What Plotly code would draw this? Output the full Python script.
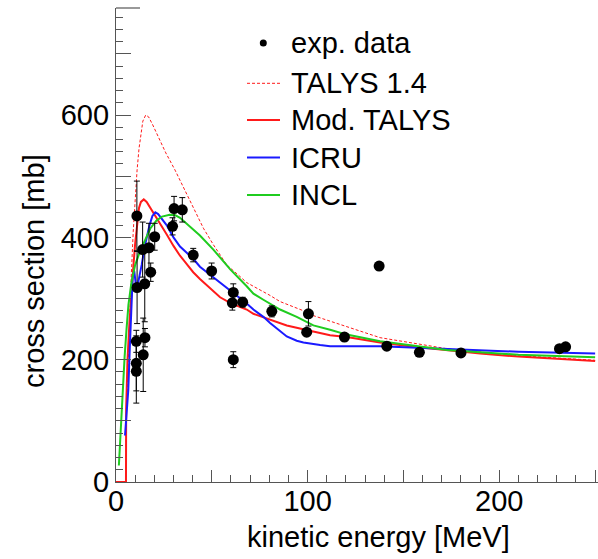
import plotly.graph_objects as go

# ---- measured cross sections ----
exp_energy = [10.9, 11.0, 10.6, 10.6, 10.6, 14.2, 15.1, 15.0, 13.9, 17.2, 18.1, 20.2,
              29.5, 30.3, 34.6, 40.3, 49.9, 61.2, 60.7, 66.1, 61.2, 81.3, 100.4, 99.5,
              119.2, 137.3, 141.3, 158.3, 180.0, 231.4, 234.6]
exp_xs = [435, 318, 230, 194, 181, 208, 236, 324, 380, 383, 343, 401,
          418, 447, 445, 371, 345, 310, 293, 294, 200, 279, 275, 245,
          237, 353, 222, 212, 211, 218, 221]
exp_err = [57, 59, 18, 45, 52, 60, 15, 62, 45, 40, 15, 22,
           14, 20, 20, 11, 13, 14, 12, 8, 13, 9, 20, 5,
           6, 6, 5, 5, 5, 5, 5]

# ---- model calculations ----
talys14_energy = [0, 5.2, 5.3, 6, 7, 8, 9, 10, 11, 12, 13, 14, 15.5, 17, 19, 22, 26, 30.8,
                  36, 40.3, 45.6, 50.8, 57.8, 64.7, 68.2, 80.4, 85.6, 97.8, 103, 111.7,
                  137.8, 172.6, 207.4, 250]
talys14_xs = [0, 0, 100, 170, 260, 340, 410, 465, 510, 545, 572, 590, 600, 597, 585, 565,
              538, 510, 477, 450, 415, 388, 355, 336, 326, 305, 295, 280, 272, 263,
              236, 218, 207, 199]

modtalys_energy = [0, 5.2, 5.3, 6, 7, 8, 9, 10, 11, 12, 13, 14.5, 16, 18, 20, 23, 26.4, 30,
                   33.4, 36, 40.3, 43.8, 50.8, 54.3, 60, 68.2, 71.7, 80, 89.1, 100, 111.7,
                   120.4, 137.8, 155.2, 172.6, 190, 210, 230, 250]
modtalys_xs = [0, 0, 120, 200, 260, 310, 350, 390, 425, 448, 458, 462, 458, 448, 438, 424,
               405, 386, 370, 360, 343, 332, 311, 302, 292, 282, 275, 266, 256, 248, 240,
               237, 228, 221, 215, 210, 205, 201, 198]

icru_energy = [4.7, 5.5, 6.4, 7.2, 8, 8.7, 9.5, 10.4, 11.3, 12.5, 13.4, 15, 16, 17.5, 19,
               20.5, 22, 24, 26.4, 28.2, 30, 33.4, 35.1, 40.3, 43.8, 50.8, 54.3, 63, 68.2,
               71.7, 76.9, 80.4, 85.6, 89.1, 94.3, 97.8, 106.5, 111.7, 137.8, 172.6, 210, 250]
icru_xs = [76, 110, 150, 220, 290, 335, 345, 322, 322, 340, 355, 385, 401, 420, 435,
           441, 438, 430, 420, 410, 400, 385, 380, 365, 352, 335, 325, 305, 292,
           282, 270, 260, 246, 238, 231, 228, 224, 222, 222, 218, 213, 210]

incl_energy = [1.5, 2.5, 3.5, 4.5, 5.5, 6.5, 8, 10, 12.5, 15, 18, 21, 24, 28, 31, 33.4,
               38.6, 43.8, 50.8, 59.5, 68.2, 71.7, 76.9, 85.6, 94.3, 103, 111.7, 120.4,
               137.8, 155.2, 172.6, 190, 210, 230, 250]
incl_xs = [27, 90, 155, 205, 250, 290, 325, 355, 377, 395, 415, 427, 434, 437, 436, 432,
           418, 403, 380, 348, 320, 308, 298, 282, 270, 256, 249, 241,
           230, 223, 216, 212, 208, 206, 204]

x_tickvals = [0, 50, 100, 150, 200, 250]
x_ticktext = ["0", "", "100", "", "200", ""]
y_tickvals = [0, 100, 200, 300, 400, 500, 600, 700]
y_ticktext = ["0", "", "200", "", "400", "", "600", ""]

legend_labels = ["exp. data", "TALYS 1.4", "Mod. TALYS", "ICRU", "INCL"]

FONT = "Liberation Sans, Arial, Helvetica, sans-serif"
RED, BLUE, GREEN = "#ff1a1a", "#1a1aff", "#1fcc1f"

W, H = 598, 559
ML, MR, MT, MB = 116, 0, 8, 77
PW, PH = W - ML - MR, H - MT - MB


def px(xpix):
    """pixel column -> paper x"""
    return (xpix - ML) / PW


def py(ypix):
    """pixel row -> paper y"""
    return (H - MB - ypix) / PH


fig = go.Figure()

fig.add_trace(go.Scatter(x=talys14_energy, y=talys14_xs, mode="lines", name="TALYS 1.4",
                         line=dict(color=RED, width=1, dash="3px,2px")))
fig.add_trace(go.Scatter(x=modtalys_energy, y=modtalys_xs, mode="lines", name="Mod. TALYS",
                         line=dict(color=RED, width=2)))
fig.add_trace(go.Scatter(x=icru_energy, y=icru_xs, mode="lines", name="ICRU",
                         line=dict(color=BLUE, width=2)))
fig.add_trace(go.Scatter(x=incl_energy, y=incl_xs, mode="lines", name="INCL",
                         line=dict(color=GREEN, width=2)))
fig.add_trace(go.Scatter(x=exp_energy, y=exp_xs, mode="markers", name="exp. data",
                         marker=dict(color="black", size=11),
                         error_y=dict(type="data", array=exp_err, color="black",
                                      thickness=1, width=3)))

# legend box drawn by hand (rows, samples and labels)
row_y = [43, 83.3, 120, 157.5, 195]
sample_styles = [None,
                 dict(color=RED, width=1, dash="3px,2px"),
                 dict(color=RED, width=2),
                 dict(color=BLUE, width=2),
                 dict(color=GREEN, width=2)]
shapes = []
annotations = []
for label, yrow, style in zip(legend_labels, row_y, sample_styles):
    if style is None:
        shapes.append(dict(type="circle", xref="paper", yref="paper",
                           x0=px(259.8), x1=px(266.8), y0=py(yrow + 3.5), y1=py(yrow - 3.5),
                           fillcolor="black", line=dict(width=0)))
    else:
        shapes.append(dict(type="line", xref="paper", yref="paper",
                           x0=px(247), x1=px(280), y0=py(yrow), y1=py(yrow), line=style))
    annotations.append(dict(text=label, xref="paper", yref="paper", x=px(289), y=py(yrow),
                            xanchor="left", yanchor="middle", showarrow=False,
                            font=dict(size=29)))

# short cap at the top of the vertical axis
shapes.append(dict(type="line", xref="paper", yref="paper", x0=0, x1=px(140), y0=1, y1=1,
                   line=dict(color="#555", width=1.2)))

annotations += [
    dict(text="kinetic energy [MeV]", xref="paper", yref="paper",
         x=px(378.5), y=py(537), xanchor="center", yanchor="middle",
         showarrow=False, font=dict(size=29)),
    dict(text="cross section [mb]", xref="paper", yref="paper",
         x=px(34), y=py(271), xanchor="center", yanchor="middle", textangle=-90,
         showarrow=False, font=dict(size=29)),
]

fig.update_layout(
    width=W, height=H,
    margin=dict(l=ML, r=MR, t=MT, b=MB),
    paper_bgcolor="white", plot_bgcolor="white",
    font=dict(family=FONT, size=29, color="black"),
    showlegend=False,
    xaxis=dict(range=[0, 251.5], showgrid=False, zeroline=False,
               showline=True, linecolor="#555", linewidth=1.2,
               ticks="inside", ticklen=12, tickcolor="#555", tickwidth=1,
               tickvals=x_tickvals, ticktext=x_ticktext, ticklabelstandoff=-7,
               minor=dict(ticks="inside", ticklen=7, dtick=10, tickcolor="#555",
                          showgrid=False),
               tickfont=dict(size=29)),
    yaxis=dict(range=[0, 775], showgrid=False, zeroline=False,
               showline=True, linecolor="#555", linewidth=1.2,
               ticks="inside", ticklen=15, tickcolor="#555", tickwidth=1,
               tickvals=y_tickvals, ticktext=y_ticktext,
               minor=dict(ticks="inside", ticklen=7, dtick=20, tickcolor="#555",
                          showgrid=False),
               tickfont=dict(size=29)),
    shapes=shapes,
    annotations=annotations,
)

fig.write_html("out.html")
